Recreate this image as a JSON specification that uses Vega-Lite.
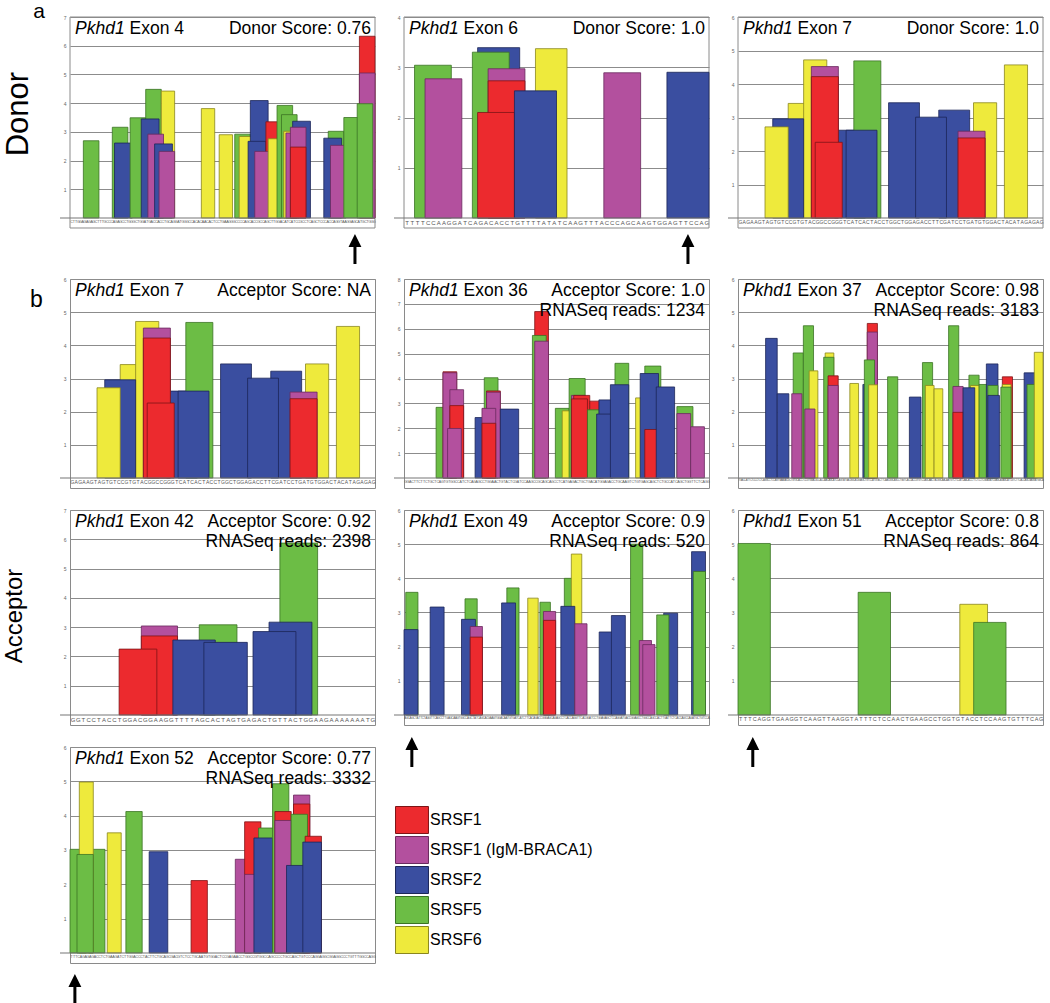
{
"$schema": "https://vega.github.io/schema/vega-lite/v6.json",
"padding": {"left": 2, "top": 0, "right": 0, "bottom": 0},
"background": "white",
"config": {"font": "Liberation Sans", "view": {"stroke": "#8a8a8a", "strokeWidth": 1}},
"datasets": {
"e4": [
{"s":6,"e":13,"h":2.69,"t":"SRSF5"},{"s":19,"e":26,"h":3.16,"t":"SRSF5"},{"s":20,"e":28,"h":2.61,"t":"SRSF2"},{"s":27,"e":34,"h":3.49,"t":"SRSF5"},{"s":34,"e":41,"h":4.48,"t":"SRSF5"},{"s":41,"e":47,"h":4.42,"t":"SRSF6"},{"s":32,"e":40,"h":3.45,"t":"SRSF2"},{"s":35,"e":42,"h":2.92,"t":"SRSF1 (IgM-BRACA1)"},{"s":38,"e":46,"h":2.58,"t":"SRSF2"},{"s":40,"e":47,"h":2.32,"t":"SRSF1 (IgM-BRACA1)"},
{"s":59,"e":65,"h":3.81,"t":"SRSF6"},{"s":67,"e":73,"h":2.9,"t":"SRSF6"},{"s":74,"e":81,"h":2.92,"t":"SRSF5"},{"s":76,"e":82,"h":2.84,"t":"SRSF6"},{"s":81,"e":89,"h":4.09,"t":"SRSF2"},{"s":80,"e":88,"h":2.67,"t":"SRSF2"},{"s":88,"e":95,"h":3.35,"t":"SRSF1"},{"s":83,"e":90,"h":2.32,"t":"SRSF1 (IgM-BRACA1)"},{"s":89,"e":95,"h":2.76,"t":"SRSF6"},
{"s":93,"e":100,"h":3.92,"t":"SRSF5"},{"s":95,"e":102,"h":3.6,"t":"SRSF5"},{"s":100,"e":108,"h":3.37,"t":"SRSF2"},{"s":96,"e":102,"h":3.02,"t":"SRSF6"},{"s":97,"e":103,"h":2.96,"t":"SRSF1 (IgM-BRACA1)"},{"s":99,"e":106,"h":3.16,"t":"SRSF1 (IgM-BRACA1)"},{"s":99,"e":106,"h":2.47,"t":"SRSF1"},
{"s":116,"e":123,"h":3.02,"t":"SRSF5"},{"s":114,"e":122,"h":2.78,"t":"SRSF2"},{"s":117,"e":124,"h":2.53,"t":"SRSF1 (IgM-BRACA1)"},{"s":123,"e":130,"h":3.5,"t":"SRSF5"},{"s":130,"e":137,"h":6.33,"t":"SRSF1"},{"s":130,"e":137,"h":5.05,"t":"SRSF1 (IgM-BRACA1)"},{"s":129,"e":136,"h":3.98,"t":"SRSF5"}
],
"e6": [
{"s":2,"e":9,"h":3.04,"t":"SRSF5"},{"s":4,"e":11,"h":2.77,"t":"SRSF1 (IgM-BRACA1)"},{"s":14,"e":22,"h":3.39,"t":"SRSF2"},{"s":13,"e":20,"h":3.3,"t":"SRSF5"},{"s":16,"e":23,"h":2.97,"t":"SRSF1 (IgM-BRACA1)"},{"s":16,"e":23,"h":2.73,"t":"SRSF1"},{"s":14,"e":21,"h":2.1,"t":"SRSF1"},{"s":25,"e":31,"h":3.37,"t":"SRSF6"},{"s":21,"e":29,"h":2.53,"t":"SRSF2"},{"s":38,"e":45,"h":2.89,"t":"SRSF1 (IgM-BRACA1)"},{"s":50,"e":58,"h":2.9,"t":"SRSF2"}
],
"e7": [
{"s":13,"e":19,"h":3.42,"t":"SRSF6"},{"s":17,"e":23,"h":4.72,"t":"SRSF6"},{"s":9,"e":17,"h":2.96,"t":"SRSF2"},{"s":7,"e":13,"h":2.72,"t":"SRSF6"},{"s":25,"e":33,"h":2.62,"t":"SRSF2"},{"s":19,"e":26,"h":4.52,"t":"SRSF1 (IgM-BRACA1)"},{"s":19,"e":26,"h":4.22,"t":"SRSF1"},{"s":20,"e":27,"h":2.26,"t":"SRSF1"},{"s":30,"e":37,"h":4.69,"t":"SRSF5"},{"s":28,"e":36,"h":2.62,"t":"SRSF2"},{"s":39,"e":47,"h":3.44,"t":"SRSF2"},{"s":52,"e":60,"h":3.22,"t":"SRSF2"},{"s":46,"e":54,"h":3.01,"t":"SRSF2"},{"s":61,"e":67,"h":3.44,"t":"SRSF6"},{"s":57,"e":64,"h":2.59,"t":"SRSF1 (IgM-BRACA1)"},{"s":57,"e":64,"h":2.39,"t":"SRSF1"},{"s":69,"e":75,"h":4.57,"t":"SRSF6"}
],
"e36": [
{"s":14,"e":21,"h":2.84,"t":"SRSF5"},{"s":17,"e":23,"h":4.27,"t":"SRSF1"},{"s":17,"e":23,"h":4.23,"t":"SRSF1 (IgM-BRACA1)"},{"s":20,"e":26,"h":3.55,"t":"SRSF1 (IgM-BRACA1)"},{"s":20,"e":26,"h":2.91,"t":"SRSF1"},{"s":19,"e":25,"h":1.99,"t":"SRSF1 (IgM-BRACA1)"},
{"s":31,"e":38,"h":2.43,"t":"SRSF2"},{"s":35,"e":41,"h":4.03,"t":"SRSF5"},{"s":36,"e":42,"h":3.5,"t":"SRSF1"},{"s":36,"e":42,"h":3.45,"t":"SRSF1 (IgM-BRACA1)"},{"s":34,"e":40,"h":2.8,"t":"SRSF1 (IgM-BRACA1)"},{"s":34,"e":40,"h":2.2,"t":"SRSF1"},{"s":42,"e":50,"h":2.77,"t":"SRSF2"},
{"s":57,"e":63,"h":6.69,"t":"SRSF1"},{"s":56,"e":62,"h":5.73,"t":"SRSF5"},{"s":57,"e":63,"h":5.5,"t":"SRSF1 (IgM-BRACA1)"},
{"s":66,"e":72,"h":2.8,"t":"SRSF5"},{"s":69,"e":75,"h":2.7,"t":"SRSF6"},{"s":72,"e":79,"h":4.0,"t":"SRSF5"},{"s":73,"e":79,"h":3.32,"t":"SRSF1 (IgM-BRACA1)"},{"s":74,"e":81,"h":3.32,"t":"SRSF1"},{"s":73,"e":80,"h":3.18,"t":"SRSF1"},{"s":81,"e":87,"h":3.09,"t":"SRSF1"},{"s":80,"e":86,"h":2.74,"t":"SRSF5"},{"s":85,"e":92,"h":3.14,"t":"SRSF2"},{"s":84,"e":91,"h":2.57,"t":"SRSF2"},{"s":92,"e":98,"h":4.61,"t":"SRSF5"},{"s":90,"e":98,"h":3.75,"t":"SRSF2"},
{"s":101,"e":107,"h":3.22,"t":"SRSF6"},{"s":105,"e":112,"h":4.5,"t":"SRSF5"},{"s":103,"e":111,"h":4.2,"t":"SRSF2"},{"s":105,"e":111,"h":1.95,"t":"SRSF1"},{"s":110,"e":118,"h":3.66,"t":"SRSF2"},{"s":119,"e":126,"h":2.87,"t":"SRSF5"},{"s":119,"e":125,"h":2.59,"t":"SRSF1 (IgM-BRACA1)"},{"s":125,"e":131,"h":2.06,"t":"SRSF1 (IgM-BRACA1)"}
],
"e37": [
{"s":19,"e":27,"h":4.21,"t":"SRSF2"},{"s":27,"e":35,"h":2.54,"t":"SRSF2"},{"s":38,"e":45,"h":3.77,"t":"SRSF5"},{"s":37,"e":44,"h":2.54,"t":"SRSF1 (IgM-BRACA1)"},{"s":45,"e":52,"h":4.59,"t":"SRSF5"},{"s":49,"e":55,"h":3.23,"t":"SRSF6"},{"s":46,"e":53,"h":2.08,"t":"SRSF1 (IgM-BRACA1)"},
{"s":60,"e":66,"h":3.77,"t":"SRSF6"},{"s":59,"e":66,"h":3.64,"t":"SRSF5"},{"s":62,"e":69,"h":3.08,"t":"SRSF1"},{"s":62,"e":69,"h":2.79,"t":"SRSF1 (IgM-BRACA1)"},{"s":77,"e":83,"h":2.85,"t":"SRSF6"},
{"s":86,"e":94,"h":2.82,"t":"SRSF2"},{"s":89,"e":96,"h":4.66,"t":"SRSF1"},{"s":89,"e":96,"h":4.4,"t":"SRSF1 (IgM-BRACA1)"},{"s":87,"e":94,"h":3.56,"t":"SRSF5"},{"s":90,"e":96,"h":2.81,"t":"SRSF6"},{"s":103,"e":110,"h":3.05,"t":"SRSF5"},
{"s":118,"e":126,"h":2.44,"t":"SRSF2"},{"s":127,"e":134,"h":3.48,"t":"SRSF5"},{"s":129,"e":135,"h":2.79,"t":"SRSF6"},{"s":135,"e":141,"h":2.69,"t":"SRSF6"},
{"s":145,"e":152,"h":4.59,"t":"SRSF5"},{"s":148,"e":155,"h":2.76,"t":"SRSF1 (IgM-BRACA1)"},{"s":148,"e":155,"h":1.98,"t":"SRSF1"},{"s":159,"e":166,"h":3.1,"t":"SRSF5"},{"s":160,"e":166,"h":2.79,"t":"SRSF6"},{"s":155,"e":163,"h":2.72,"t":"SRSF2"},{"s":166,"e":173,"h":2.82,"t":"SRSF5"},{"s":171,"e":179,"h":3.44,"t":"SRSF2"},{"s":172,"e":179,"h":2.79,"t":"SRSF5"},{"s":172,"e":180,"h":2.49,"t":"SRSF2"},
{"s":182,"e":189,"h":3.05,"t":"SRSF1"},{"s":182,"e":188,"h":2.82,"t":"SRSF6"},{"s":181,"e":188,"h":2.74,"t":"SRSF5"},{"s":197,"e":205,"h":3.17,"t":"SRSF2"},{"s":199,"e":206,"h":2.82,"t":"SRSF5"},{"s":204,"e":210,"h":3.79,"t":"SRSF6"}
],
"e42": [
{"s":13.8,"e":20.8,"h":3.04,"t":"SRSF1 (IgM-BRACA1)"},{"s":13.8,"e":20.8,"h":2.7,"t":"SRSF1"},{"s":9.5,"e":16.8,"h":2.25,"t":"SRSF1"},{"s":25,"e":32.3,"h":3.08,"t":"SRSF5"},{"s":19.9,"e":28.1,"h":2.56,"t":"SRSF2"},{"s":25.9,"e":34.3,"h":2.48,"t":"SRSF2"},{"s":40.6,"e":47.9,"h":5.87,"t":"SRSF5"},{"s":38.5,"e":46.8,"h":3.17,"t":"SRSF2"},{"s":35.4,"e":43.7,"h":2.85,"t":"SRSF2"}
],
"e49": [
{"s":1,"e":8,"h":3.59,"t":"SRSF5"},{"s":0,"e":8,"h":2.5,"t":"SRSF2"},{"s":15,"e":23,"h":3.16,"t":"SRSF2"},{"s":35,"e":42,"h":3.4,"t":"SRSF5"},{"s":33,"e":41,"h":2.8,"t":"SRSF2"},{"s":38,"e":45,"h":2.59,"t":"SRSF1 (IgM-BRACA1)"},{"s":38,"e":45,"h":2.28,"t":"SRSF1"},
{"s":59,"e":66,"h":3.72,"t":"SRSF5"},{"s":56,"e":64,"h":3.28,"t":"SRSF2"},{"s":71,"e":77,"h":3.42,"t":"SRSF6"},{"s":78,"e":84,"h":3.3,"t":"SRSF5"},{"s":80,"e":87,"h":3.03,"t":"SRSF1 (IgM-BRACA1)"},{"s":80,"e":87,"h":2.77,"t":"SRSF1"},
{"s":92,"e":99,"h":4.0,"t":"SRSF5"},{"s":96,"e":102,"h":4.71,"t":"SRSF6"},{"s":90,"e":98,"h":3.18,"t":"SRSF2"},{"s":98,"e":105,"h":2.67,"t":"SRSF1 (IgM-BRACA1)"},{"s":112,"e":120,"h":2.43,"t":"SRSF2"},{"s":119,"e":127,"h":2.91,"t":"SRSF2"},
{"s":130,"e":137,"h":5.0,"t":"SRSF5"},{"s":135,"e":142,"h":2.18,"t":"SRSF1 (IgM-BRACA1)"},{"s":137,"e":144,"h":2.06,"t":"SRSF1 (IgM-BRACA1)"},{"s":149,"e":157,"h":2.98,"t":"SRSF2"},{"s":145,"e":152,"h":2.93,"t":"SRSF5"},{"s":165,"e":173,"h":4.78,"t":"SRSF2"},{"s":166,"e":173,"h":4.2,"t":"SRSF5"}
],
"e51": [
{"s":0,"e":7,"h":5.02,"t":"SRSF5"},{"s":26,"e":33,"h":3.59,"t":"SRSF5"},{"s":48,"e":54,"h":3.24,"t":"SRSF6"},{"s":51,"e":58,"h":2.71,"t":"SRSF5"}
],
"e52": [
{"s":0,"e":7,"h":3.02,"t":"SRSF5"},{"s":8,"e":15,"h":3.02,"t":"SRSF5"},{"s":4,"e":10,"h":4.98,"t":"SRSF6"},{"s":3,"e":10,"h":2.87,"t":"SRSF5"},{"s":16,"e":22,"h":3.5,"t":"SRSF6"},{"s":24,"e":31,"h":4.12,"t":"SRSF5"},{"s":34,"e":42,"h":2.95,"t":"SRSF2"},{"s":52,"e":59,"h":2.11,"t":"SRSF1"},
{"s":71,"e":78,"h":2.73,"t":"SRSF1 (IgM-BRACA1)"},{"s":75,"e":82,"h":3.82,"t":"SRSF1"},{"s":75,"e":82,"h":2.29,"t":"SRSF1 (IgM-BRACA1)"},{"s":81,"e":88,"h":3.64,"t":"SRSF5"},{"s":79,"e":87,"h":3.35,"t":"SRSF2"},{"s":87,"e":94,"h":4.93,"t":"SRSF5"},{"s":88,"e":95,"h":4.12,"t":"SRSF1"},{"s":88,"e":95,"h":3.86,"t":"SRSF1 (IgM-BRACA1)"},
{"s":96,"e":103,"h":4.6,"t":"SRSF1 (IgM-BRACA1)"},{"s":96,"e":103,"h":4.34,"t":"SRSF1"},{"s":95,"e":102,"h":4.04,"t":"SRSF5"},{"s":93,"e":101,"h":2.55,"t":"SRSF2"},{"s":101,"e":108,"h":3.4,"t":"SRSF1"},{"s":100,"e":108,"h":3.23,"t":"SRSF2"}
]
},
"columns": 3,
"bounds": "flush",
"align": "each",
"spacing": {"row": 22, "column": 29},
"resolve": {"scale": {"x": "independent", "y": "independent", "color": "independent", "stroke": "independent"}, "axis": {"x": "independent", "y": "independent"}, "legend": {"color": "independent", "stroke": "independent"}},
"concat": [
{
"width": 305, "height": 240, "view": {"stroke": null},
"layer": [
{"data": {"values": [{}]}, "mark": {"type": "rect", "fill": "transparent", "stroke": "#8a8a8a", "strokeWidth": 1},
 "encoding": {"x": {"datum": 0, "type": "quantitative", "scale": {"domain": [0, 137], "nice": false, "zero": false}}, "x2": {"datum": 137}, "y": {"datum": 7, "type": "quantitative", "scale": {"domain": [-1.358, 7], "nice": false, "zero": false}}, "y2": {"datum": -0.348}}},
{"data": {"name": "e4"}, "mark": {"type": "rect", "strokeWidth": 0.8},
 "encoding": {
  "x": {"field": "s", "type": "quantitative", "scale": {"domain": [0, 137], "nice": false, "zero": false}, "axis": {"offset": -39, "tickCount": 137, "labelExpr": "substring('CTTGGAGAGAGCTTTGCCCAGAGCCTGGGCTGGATGACCACCTGCAGGATGGGCCACACAACACTCCTGAAGGGCCCCAGCACCGCCAGCTTGGACATCATCCGCCTCAGCTCCCACCAGGTAAGGAGCATGCTGGG', floor(datum.value), floor(datum.value) + 1)", "labelOffset": 1.11, "labelFontSize": 3.6, "labelColor": "#555555", "labelPadding": 1, "labelOverlap": false, "labelFlush": false, "labelBound": false, "labelAngle": 0, "labelAlign": "center", "labelBaseline": "top", "ticks": false, "domain": false, "grid": false, "title": null}},
  "x2": {"field": "e"},
  "y": {"field": "h", "type": "quantitative", "scale": {"domain": [-1.358, 7], "nice": false, "zero": false}, "axis": {"values": [1,2,3,4,5,6,7], "format": "d", "tickCount": 20, "labelOverlap": false, "grid": true, "gridColor": "#8c8c8c", "gridWidth": 1.2, "ticks": false, "domain": false, "labelFontSize": 5, "labelColor": "#666666", "labelPadding": 4, "title": null}},
  "y2": {"datum": 0},
  "color": {"field": "t", "type": "nominal", "scale": {"domain": ["SRSF1","SRSF1 (IgM-BRACA1)","SRSF2","SRSF5","SRSF6"], "range": ["#ec2a2e","#b3509e","#3a4ea0","#6cbd45","#eeea3c"]}, "legend": null},
  "stroke": {"field": "t", "type": "nominal", "scale": {"domain": ["SRSF1","SRSF1 (IgM-BRACA1)","SRSF2","SRSF5","SRSF6"], "range": ["#7d1416","#6a2a5e","#1c2658","#3b7424","#8a861e"]}, "legend": null}}},
{"data": {"values": [{}]}, "mark": {"type": "rule", "color": "#777777", "strokeWidth": 1.2}, "encoding": {"x": {"datum": -4.5, "type": "quantitative", "scale": {"domain": [0, 137], "nice": false, "zero": false}}, "x2": {"datum": 137}, "y": {"datum": 0, "type": "quantitative", "scale": {"domain": [-1.358, 7], "nice": false, "zero": false}}}},
{"data": {"values": [{}]}, "mark": {"type": "text", "text": "Pkhd1", "fontStyle": "italic", "fontSize": 17.5, "align": "left", "baseline": "alphabetic", "dx": 5, "dy": 17},
 "encoding": {"x": {"datum": 0, "type": "quantitative", "scale": {"domain": [0, 137], "nice": false, "zero": false}}, "y": {"datum": 7, "type": "quantitative", "scale": {"domain": [-1.358, 7], "nice": false, "zero": false}}}},
{"data": {"values": [{}]}, "mark": {"type": "text", "text": "Exon 4", "fontSize": 17.5, "align": "left", "baseline": "alphabetic", "dx": 59.5, "dy": 17},
 "encoding": {"x": {"datum": 0, "type": "quantitative", "scale": {"domain": [0, 137], "nice": false, "zero": false}}, "y": {"datum": 7, "type": "quantitative", "scale": {"domain": [-1.358, 7], "nice": false, "zero": false}}}},
{"data": {"values": [{}]}, "mark": {"type": "text", "text": "Donor Score: 0.76", "fontSize": 17.5, "align": "right", "baseline": "alphabetic", "dx": -4, "dy": 17},
 "encoding": {"x": {"datum": 137, "type": "quantitative", "scale": {"domain": [0, 137], "nice": false, "zero": false}}, "y": {"datum": 7, "type": "quantitative", "scale": {"domain": [-1.358, 7], "nice": false, "zero": false}}}},
{"data": {"values": [{"site": 128}]}, "mark": {"type": "point", "shape": "M0,-1L0.43,-0.13L0.1,-0.13L0.1,1L-0.1,1L-0.1,-0.13L-0.43,-0.13Z", "filled": true, "color": "#000000", "size": 900, "strokeWidth": 0, "opacity": 1},
 "encoding": {"x": {"field": "site", "type": "quantitative", "scale": {"domain": [0, 137], "nice": false, "zero": false}}, "y": {"datum": -1.08, "type": "quantitative", "scale": {"domain": [-1.358, 7], "nice": false, "zero": false}}}},
{"data": {"values": [{}]}, "mark": {"type": "text", "text": "Donor", "fontSize": 31, "angle": 270, "align": "center", "baseline": "middle"},
 "encoding": {"x": {"datum": -22.9, "type": "quantitative", "scale": {"domain": [0, 137], "nice": false, "zero": false}}, "y": {"datum": 3.62, "type": "quantitative", "scale": {"domain": [-1.358, 7], "nice": false, "zero": false}}}},
{"data": {"values": [{}]}, "mark": {"type": "text", "text": "a", "fontSize": 21, "align": "center", "baseline": "alphabetic"},
 "encoding": {"x": {"datum": -13.9, "type": "quantitative", "scale": {"domain": [0, 137], "nice": false, "zero": false}}, "y": {"datum": 6.97, "type": "quantitative", "scale": {"domain": [-1.358, 7], "nice": false, "zero": false}}}}
]
},
{
"width": 305, "height": 240, "view": {"stroke": null},
"layer": [
{"data": {"values": [{}]}, "mark": {"type": "rect", "fill": "transparent", "stroke": "#8a8a8a", "strokeWidth": 1},
 "encoding": {"x": {"datum": 0, "type": "quantitative", "scale": {"domain": [0, 58], "nice": false, "zero": false}}, "x2": {"datum": 58}, "y": {"datum": 4, "type": "quantitative", "scale": {"domain": [-0.776, 4], "nice": false, "zero": false}}, "y2": {"datum": -0.199}}},
{"data": {"name": "e6"}, "mark": {"type": "rect", "strokeWidth": 0.8},
 "encoding": {
  "x": {"field": "s", "type": "quantitative", "scale": {"domain": [0, 58], "nice": false, "zero": false}, "axis": {"offset": -39, "tickCount": 58, "labelExpr": "substring('TTTTCCAAGGATCAGACACCTGTTTTATATCAAGTTTACCCAGCAAGTGGAGTTCCAG', floor(datum.value), floor(datum.value) + 1)", "labelOffset": 2.63, "labelFontSize": 6, "labelColor": "#555555", "labelPadding": 1, "labelOverlap": false, "labelFlush": false, "labelBound": false, "labelAngle": 0, "labelAlign": "center", "labelBaseline": "top", "ticks": false, "domain": false, "grid": false, "title": null}},
  "x2": {"field": "e"},
  "y": {"field": "h", "type": "quantitative", "scale": {"domain": [-0.776, 4], "nice": false, "zero": false}, "axis": {"values": [1,2,3,4], "format": "d", "tickCount": 20, "labelOverlap": false, "grid": true, "gridColor": "#8c8c8c", "gridWidth": 1.2, "ticks": false, "domain": false, "labelFontSize": 5, "labelColor": "#666666", "labelPadding": 4, "title": null}},
  "y2": {"datum": 0},
  "color": {"field": "t", "type": "nominal", "scale": {"domain": ["SRSF1","SRSF1 (IgM-BRACA1)","SRSF2","SRSF5","SRSF6"], "range": ["#ec2a2e","#b3509e","#3a4ea0","#6cbd45","#eeea3c"]}, "legend": null},
  "stroke": {"field": "t", "type": "nominal", "scale": {"domain": ["SRSF1","SRSF1 (IgM-BRACA1)","SRSF2","SRSF5","SRSF6"], "range": ["#7d1416","#6a2a5e","#1c2658","#3b7424","#8a861e"]}, "legend": null}}},
{"data": {"values": [{}]}, "mark": {"type": "rule", "color": "#777777", "strokeWidth": 1.2}, "encoding": {"x": {"datum": -1.9, "type": "quantitative", "scale": {"domain": [0, 58], "nice": false, "zero": false}}, "x2": {"datum": 58}, "y": {"datum": 0, "type": "quantitative", "scale": {"domain": [-0.776, 4], "nice": false, "zero": false}}}},
{"data": {"values": [{}]}, "mark": {"type": "text", "text": "Pkhd1", "fontStyle": "italic", "fontSize": 17.5, "align": "left", "baseline": "alphabetic", "dx": 5, "dy": 17},
 "encoding": {"x": {"datum": 0, "type": "quantitative", "scale": {"domain": [0, 58], "nice": false, "zero": false}}, "y": {"datum": 4, "type": "quantitative", "scale": {"domain": [-0.776, 4], "nice": false, "zero": false}}}},
{"data": {"values": [{}]}, "mark": {"type": "text", "text": "Exon 6", "fontSize": 17.5, "align": "left", "baseline": "alphabetic", "dx": 59.5, "dy": 17},
 "encoding": {"x": {"datum": 0, "type": "quantitative", "scale": {"domain": [0, 58], "nice": false, "zero": false}}, "y": {"datum": 4, "type": "quantitative", "scale": {"domain": [-0.776, 4], "nice": false, "zero": false}}}},
{"data": {"values": [{}]}, "mark": {"type": "text", "text": "Donor Score: 1.0", "fontSize": 17.5, "align": "right", "baseline": "alphabetic", "dx": -4, "dy": 17},
 "encoding": {"x": {"datum": 58, "type": "quantitative", "scale": {"domain": [0, 58], "nice": false, "zero": false}}, "y": {"datum": 4, "type": "quantitative", "scale": {"domain": [-0.776, 4], "nice": false, "zero": false}}}},
{"data": {"values": [{"site": 54}]}, "mark": {"type": "point", "shape": "M0,-1L0.43,-0.13L0.1,-0.13L0.1,1L-0.1,1L-0.1,-0.13L-0.43,-0.13Z", "filled": true, "color": "#000000", "size": 900, "strokeWidth": 0, "opacity": 1},
 "encoding": {"x": {"field": "site", "type": "quantitative", "scale": {"domain": [0, 58], "nice": false, "zero": false}}, "y": {"datum": -0.617, "type": "quantitative", "scale": {"domain": [-0.776, 4], "nice": false, "zero": false}}}}
]
},
{
"width": 305, "height": 240, "view": {"stroke": null},
"layer": [
{"data": {"values": [{}]}, "mark": {"type": "rect", "fill": "transparent", "stroke": "#8a8a8a", "strokeWidth": 1},
 "encoding": {"x": {"datum": 0, "type": "quantitative", "scale": {"domain": [0, 79], "nice": false, "zero": false}}, "x2": {"datum": 79}, "y": {"datum": 6, "type": "quantitative", "scale": {"domain": [-1.164, 6], "nice": false, "zero": false}}, "y2": {"datum": -0.2985}}},
{"data": {"name": "e7"}, "mark": {"type": "rect", "strokeWidth": 0.8},
 "encoding": {
  "x": {"field": "s", "type": "quantitative", "scale": {"domain": [0, 79], "nice": false, "zero": false}, "axis": {"offset": -39, "tickCount": 79, "labelExpr": "substring('GAGAAGTAGTGTCCGTGTACGGCCGGGTCATCACTACCTGGCTGGAGACCTTCGATCCTGATGTGGACTACATAGAGAG', floor(datum.value), floor(datum.value) + 1)", "labelOffset": 1.93, "labelFontSize": 5, "labelColor": "#555555", "labelPadding": 1, "labelOverlap": false, "labelFlush": false, "labelBound": false, "labelAngle": 0, "labelAlign": "center", "labelBaseline": "top", "ticks": false, "domain": false, "grid": false, "title": null}},
  "x2": {"field": "e"},
  "y": {"field": "h", "type": "quantitative", "scale": {"domain": [-1.164, 6], "nice": false, "zero": false}, "axis": {"values": [1,2,3,4,5,6], "format": "d", "tickCount": 20, "labelOverlap": false, "grid": true, "gridColor": "#8c8c8c", "gridWidth": 1.2, "ticks": false, "domain": false, "labelFontSize": 5, "labelColor": "#666666", "labelPadding": 4, "title": null}},
  "y2": {"datum": 0},
  "color": {"field": "t", "type": "nominal", "scale": {"domain": ["SRSF1","SRSF1 (IgM-BRACA1)","SRSF2","SRSF5","SRSF6"], "range": ["#ec2a2e","#b3509e","#3a4ea0","#6cbd45","#eeea3c"]}, "legend": null},
  "stroke": {"field": "t", "type": "nominal", "scale": {"domain": ["SRSF1","SRSF1 (IgM-BRACA1)","SRSF2","SRSF5","SRSF6"], "range": ["#7d1416","#6a2a5e","#1c2658","#3b7424","#8a861e"]}, "legend": null}}},
{"data": {"values": [{}]}, "mark": {"type": "rule", "color": "#777777", "strokeWidth": 1.2}, "encoding": {"x": {"datum": -2.6, "type": "quantitative", "scale": {"domain": [0, 79], "nice": false, "zero": false}}, "x2": {"datum": 79}, "y": {"datum": 0, "type": "quantitative", "scale": {"domain": [-1.164, 6], "nice": false, "zero": false}}}},
{"data": {"values": [{}]}, "mark": {"type": "text", "text": "Pkhd1", "fontStyle": "italic", "fontSize": 17.5, "align": "left", "baseline": "alphabetic", "dx": 5, "dy": 17},
 "encoding": {"x": {"datum": 0, "type": "quantitative", "scale": {"domain": [0, 79], "nice": false, "zero": false}}, "y": {"datum": 6, "type": "quantitative", "scale": {"domain": [-1.164, 6], "nice": false, "zero": false}}}},
{"data": {"values": [{}]}, "mark": {"type": "text", "text": "Exon 7", "fontSize": 17.5, "align": "left", "baseline": "alphabetic", "dx": 59.5, "dy": 17},
 "encoding": {"x": {"datum": 0, "type": "quantitative", "scale": {"domain": [0, 79], "nice": false, "zero": false}}, "y": {"datum": 6, "type": "quantitative", "scale": {"domain": [-1.164, 6], "nice": false, "zero": false}}}},
{"data": {"values": [{}]}, "mark": {"type": "text", "text": "Donor Score: 1.0", "fontSize": 17.5, "align": "right", "baseline": "alphabetic", "dx": -4, "dy": 17},
 "encoding": {"x": {"datum": 79, "type": "quantitative", "scale": {"domain": [0, 79], "nice": false, "zero": false}}, "y": {"datum": 6, "type": "quantitative", "scale": {"domain": [-1.164, 6], "nice": false, "zero": false}}}}
]
},
{
"width": 305, "height": 209,
"layer": [
{"data": {"name": "e7"}, "mark": {"type": "rect", "strokeWidth": 0.8},
 "encoding": {
  "x": {"field": "s", "type": "quantitative", "scale": {"domain": [0, 79], "nice": false, "zero": false}, "axis": {"offset": -10, "tickCount": 79, "labelExpr": "substring('GAGAAGTAGTGTCCGTGTACGGCCGGGTCATCACTACCTGGCTGGAGACCTTCGATCCTGATGTGGACTACATAGAGAG', floor(datum.value), floor(datum.value) + 1)", "labelOffset": 1.93, "labelFontSize": 5, "labelColor": "#555555", "labelPadding": 1, "labelOverlap": false, "labelFlush": false, "labelBound": false, "labelAngle": 0, "labelAlign": "center", "labelBaseline": "top", "ticks": false, "domain": false, "grid": false, "title": null}},
  "x2": {"field": "e"},
  "y": {"field": "h", "type": "quantitative", "scale": {"domain": [-0.3015, 6], "nice": false, "zero": false}, "axis": {"values": [1,2,3,4,5,6], "format": "d", "tickCount": 20, "labelOverlap": false, "grid": true, "gridColor": "#8c8c8c", "gridWidth": 1.2, "ticks": false, "domain": false, "labelFontSize": 5, "labelColor": "#666666", "labelPadding": 4, "title": null}},
  "y2": {"datum": 0},
  "color": {"field": "t", "type": "nominal", "scale": {"domain": ["SRSF1","SRSF1 (IgM-BRACA1)","SRSF2","SRSF5","SRSF6"], "range": ["#ec2a2e","#b3509e","#3a4ea0","#6cbd45","#eeea3c"]}, "legend": null},
  "stroke": {"field": "t", "type": "nominal", "scale": {"domain": ["SRSF1","SRSF1 (IgM-BRACA1)","SRSF2","SRSF5","SRSF6"], "range": ["#7d1416","#6a2a5e","#1c2658","#3b7424","#8a861e"]}, "legend": null}}},
{"data": {"values": [{}]}, "mark": {"type": "rule", "color": "#777777", "strokeWidth": 1.2}, "encoding": {"x": {"datum": -2.6, "type": "quantitative", "scale": {"domain": [0, 79], "nice": false, "zero": false}}, "x2": {"datum": 79}, "y": {"datum": 0, "type": "quantitative", "scale": {"domain": [-0.3015, 6], "nice": false, "zero": false}}}},
{"data": {"values": [{}]}, "mark": {"type": "text", "text": "Pkhd1", "fontStyle": "italic", "fontSize": 17.5, "align": "left", "baseline": "alphabetic", "dx": 5, "dy": 17},
 "encoding": {"x": {"datum": 0, "type": "quantitative", "scale": {"domain": [0, 79], "nice": false, "zero": false}}, "y": {"datum": 6, "type": "quantitative", "scale": {"domain": [-0.3015, 6], "nice": false, "zero": false}}}},
{"data": {"values": [{}]}, "mark": {"type": "text", "text": "Exon 7", "fontSize": 17.5, "align": "left", "baseline": "alphabetic", "dx": 59.5, "dy": 17},
 "encoding": {"x": {"datum": 0, "type": "quantitative", "scale": {"domain": [0, 79], "nice": false, "zero": false}}, "y": {"datum": 6, "type": "quantitative", "scale": {"domain": [-0.3015, 6], "nice": false, "zero": false}}}},
{"data": {"values": [{}]}, "mark": {"type": "text", "text": "Acceptor Score: NA", "fontSize": 17.5, "align": "right", "baseline": "alphabetic", "dx": -4, "dy": 17},
 "encoding": {"x": {"datum": 79, "type": "quantitative", "scale": {"domain": [0, 79], "nice": false, "zero": false}}, "y": {"datum": 6, "type": "quantitative", "scale": {"domain": [-0.3015, 6], "nice": false, "zero": false}}}},
{"data": {"values": [{}]}, "mark": {"type": "text", "text": "b", "fontSize": 23, "align": "center", "baseline": "alphabetic"},
 "encoding": {"x": {"datum": -8.68, "type": "quantitative", "scale": {"domain": [0, 79], "nice": false, "zero": false}}, "y": {"datum": 5.155, "type": "quantitative", "scale": {"domain": [-0.3015, 6], "nice": false, "zero": false}}}}
]
},
{
"width": 305, "height": 209,
"layer": [
{"data": {"name": "e36"}, "mark": {"type": "rect", "strokeWidth": 0.8},
 "encoding": {
  "x": {"field": "s", "type": "quantitative", "scale": {"domain": [0, 133], "nice": false, "zero": false}, "axis": {"offset": -10, "tickCount": 133, "labelExpr": "substring('GGACTTCTTCTGCTCAGTGTGGCCATCTCAGAGCCTGGAACTGTACTCGATCCAAGCCGCAGCAGCCTCATGAGACTGCTGACATGGAGACCTGCAAGTCTGTGAGCAGCTCTGCCATCAGCTGGTTCTCAGG', floor(datum.value), floor(datum.value) + 1)", "labelOffset": 1.15, "labelFontSize": 3.6, "labelColor": "#555555", "labelPadding": 1, "labelOverlap": false, "labelFlush": false, "labelBound": false, "labelAngle": 0, "labelAlign": "center", "labelBaseline": "top", "ticks": false, "domain": false, "grid": false, "title": null}},
  "x2": {"field": "e"},
  "y": {"field": "h", "type": "quantitative", "scale": {"domain": [-0.402, 8], "nice": false, "zero": false}, "axis": {"values": [1,2,3,4,5,6,7,8], "format": "d", "tickCount": 20, "labelOverlap": false, "grid": true, "gridColor": "#8c8c8c", "gridWidth": 1.2, "ticks": false, "domain": false, "labelFontSize": 5, "labelColor": "#666666", "labelPadding": 4, "title": null}},
  "y2": {"datum": 0},
  "color": {"field": "t", "type": "nominal", "scale": {"domain": ["SRSF1","SRSF1 (IgM-BRACA1)","SRSF2","SRSF5","SRSF6"], "range": ["#ec2a2e","#b3509e","#3a4ea0","#6cbd45","#eeea3c"]}, "legend": null},
  "stroke": {"field": "t", "type": "nominal", "scale": {"domain": ["SRSF1","SRSF1 (IgM-BRACA1)","SRSF2","SRSF5","SRSF6"], "range": ["#7d1416","#6a2a5e","#1c2658","#3b7424","#8a861e"]}, "legend": null}}},
{"data": {"values": [{}]}, "mark": {"type": "rule", "color": "#777777", "strokeWidth": 1.2}, "encoding": {"x": {"datum": -4.36, "type": "quantitative", "scale": {"domain": [0, 133], "nice": false, "zero": false}}, "x2": {"datum": 133}, "y": {"datum": 0, "type": "quantitative", "scale": {"domain": [-0.402, 8], "nice": false, "zero": false}}}},
{"data": {"values": [{}]}, "mark": {"type": "text", "text": "Pkhd1", "fontStyle": "italic", "fontSize": 17.5, "align": "left", "baseline": "alphabetic", "dx": 5, "dy": 17},
 "encoding": {"x": {"datum": 0, "type": "quantitative", "scale": {"domain": [0, 133], "nice": false, "zero": false}}, "y": {"datum": 8, "type": "quantitative", "scale": {"domain": [-0.402, 8], "nice": false, "zero": false}}}},
{"data": {"values": [{}]}, "mark": {"type": "text", "text": "Exon 36", "fontSize": 17.5, "align": "left", "baseline": "alphabetic", "dx": 59.5, "dy": 17},
 "encoding": {"x": {"datum": 0, "type": "quantitative", "scale": {"domain": [0, 133], "nice": false, "zero": false}}, "y": {"datum": 8, "type": "quantitative", "scale": {"domain": [-0.402, 8], "nice": false, "zero": false}}}},
{"data": {"values": [{}]}, "mark": {"type": "text", "text": "Acceptor Score: 1.0\nRNASeq reads: 1234", "lineBreak": "\n", "lineHeight": 20, "fontSize": 17.5, "align": "right", "baseline": "alphabetic", "dx": -4, "dy": 17},
 "encoding": {"x": {"datum": 133, "type": "quantitative", "scale": {"domain": [0, 133], "nice": false, "zero": false}}, "y": {"datum": 8, "type": "quantitative", "scale": {"domain": [-0.402, 8], "nice": false, "zero": false}}}}
]
},
{
"width": 305, "height": 209,
"layer": [
{"data": {"name": "e37"}, "mark": {"type": "rect", "strokeWidth": 0.8},
 "encoding": {
  "x": {"field": "s", "type": "quantitative", "scale": {"domain": [0, 210], "nice": false, "zero": false}, "axis": {"offset": -10, "tickCount": 210, "labelExpr": "substring('TGACCATTCTCCCTCTCAGGCCTCCAGTGAAGACGCTGTGCACCTCCGTGGACGCCACCAACAGCATCCAGTATGACGGCACGGAGCTGTCCATGTACTTCAACGGCAGCCTGGTCACCACCGTGTCCAGCAACTACGGCAACAATGTCTCCATCAACACCTTCTCCTCGGAGATCGAGCAGAGCATCGTCTTCACCAGCGAGGATGGCA', floor(datum.value), floor(datum.value) + 1)", "labelOffset": 0.73, "labelFontSize": 2.6, "labelColor": "#555555", "labelPadding": 1, "labelOverlap": false, "labelFlush": false, "labelBound": false, "labelAngle": 0, "labelAlign": "center", "labelBaseline": "top", "ticks": false, "domain": false, "grid": false, "title": null}},
  "x2": {"field": "e"},
  "y": {"field": "h", "type": "quantitative", "scale": {"domain": [-0.3015, 6], "nice": false, "zero": false}, "axis": {"values": [1,2,3,4,5,6], "format": "d", "tickCount": 20, "labelOverlap": false, "grid": true, "gridColor": "#8c8c8c", "gridWidth": 1.2, "ticks": false, "domain": false, "labelFontSize": 5, "labelColor": "#666666", "labelPadding": 4, "title": null}},
  "y2": {"datum": 0},
  "color": {"field": "t", "type": "nominal", "scale": {"domain": ["SRSF1","SRSF1 (IgM-BRACA1)","SRSF2","SRSF5","SRSF6"], "range": ["#ec2a2e","#b3509e","#3a4ea0","#6cbd45","#eeea3c"]}, "legend": null},
  "stroke": {"field": "t", "type": "nominal", "scale": {"domain": ["SRSF1","SRSF1 (IgM-BRACA1)","SRSF2","SRSF5","SRSF6"], "range": ["#7d1416","#6a2a5e","#1c2658","#3b7424","#8a861e"]}, "legend": null}}},
{"data": {"values": [{}]}, "mark": {"type": "rule", "color": "#777777", "strokeWidth": 1.2}, "encoding": {"x": {"datum": -6.9, "type": "quantitative", "scale": {"domain": [0, 210], "nice": false, "zero": false}}, "x2": {"datum": 210}, "y": {"datum": 0, "type": "quantitative", "scale": {"domain": [-0.3015, 6], "nice": false, "zero": false}}}},
{"data": {"values": [{}]}, "mark": {"type": "text", "text": "Pkhd1", "fontStyle": "italic", "fontSize": 17.5, "align": "left", "baseline": "alphabetic", "dx": 5, "dy": 17},
 "encoding": {"x": {"datum": 0, "type": "quantitative", "scale": {"domain": [0, 210], "nice": false, "zero": false}}, "y": {"datum": 6, "type": "quantitative", "scale": {"domain": [-0.3015, 6], "nice": false, "zero": false}}}},
{"data": {"values": [{}]}, "mark": {"type": "text", "text": "Exon 37", "fontSize": 17.5, "align": "left", "baseline": "alphabetic", "dx": 59.5, "dy": 17},
 "encoding": {"x": {"datum": 0, "type": "quantitative", "scale": {"domain": [0, 210], "nice": false, "zero": false}}, "y": {"datum": 6, "type": "quantitative", "scale": {"domain": [-0.3015, 6], "nice": false, "zero": false}}}},
{"data": {"values": [{}]}, "mark": {"type": "text", "text": "Acceptor Score: 0.98\nRNASeq reads: 3183", "lineBreak": "\n", "lineHeight": 20, "fontSize": 17.5, "align": "right", "baseline": "alphabetic", "dx": -4, "dy": 17},
 "encoding": {"x": {"datum": 210, "type": "quantitative", "scale": {"domain": [0, 210], "nice": false, "zero": false}}, "y": {"datum": 6, "type": "quantitative", "scale": {"domain": [-0.3015, 6], "nice": false, "zero": false}}}}
]
},
{
"width": 305, "height": 215,
"layer": [
{"data": {"name": "e42"}, "mark": {"type": "rect", "strokeWidth": 0.8},
 "encoding": {
  "x": {"field": "s", "type": "quantitative", "scale": {"domain": [0, 59], "nice": false, "zero": false}, "axis": {"offset": -10, "tickCount": 59, "labelExpr": "substring('GGTCCTACCTGGACGGAAGGTTTTAGCACTAGTGAGACTGTTACTGGAAGAAAAAAATG', floor(datum.value), floor(datum.value) + 1)", "labelOffset": 2.58, "labelFontSize": 6, "labelColor": "#555555", "labelPadding": 1, "labelOverlap": false, "labelFlush": false, "labelBound": false, "labelAngle": 0, "labelAlign": "center", "labelBaseline": "top", "ticks": false, "domain": false, "grid": false, "title": null}},
  "x2": {"field": "e"},
  "y": {"field": "h", "type": "quantitative", "scale": {"domain": [-0.3415, 7], "nice": false, "zero": false}, "axis": {"values": [1,2,3,4,5,6,7], "format": "d", "tickCount": 20, "labelOverlap": false, "grid": true, "gridColor": "#8c8c8c", "gridWidth": 1.2, "ticks": false, "domain": false, "labelFontSize": 5, "labelColor": "#666666", "labelPadding": 4, "title": null}},
  "y2": {"datum": 0},
  "color": {"field": "t", "type": "nominal", "scale": {"domain": ["SRSF1","SRSF1 (IgM-BRACA1)","SRSF2","SRSF5","SRSF6"], "range": ["#ec2a2e","#b3509e","#3a4ea0","#6cbd45","#eeea3c"]}, "legend": null},
  "stroke": {"field": "t", "type": "nominal", "scale": {"domain": ["SRSF1","SRSF1 (IgM-BRACA1)","SRSF2","SRSF5","SRSF6"], "range": ["#7d1416","#6a2a5e","#1c2658","#3b7424","#8a861e"]}, "legend": null}}},
{"data": {"values": [{}]}, "mark": {"type": "rule", "color": "#777777", "strokeWidth": 1.2}, "encoding": {"x": {"datum": -1.93, "type": "quantitative", "scale": {"domain": [0, 59], "nice": false, "zero": false}}, "x2": {"datum": 59}, "y": {"datum": 0, "type": "quantitative", "scale": {"domain": [-0.3415, 7], "nice": false, "zero": false}}}},
{"data": {"values": [{}]}, "mark": {"type": "text", "text": "Pkhd1", "fontStyle": "italic", "fontSize": 17.5, "align": "left", "baseline": "alphabetic", "dx": 5, "dy": 17},
 "encoding": {"x": {"datum": 0, "type": "quantitative", "scale": {"domain": [0, 59], "nice": false, "zero": false}}, "y": {"datum": 7, "type": "quantitative", "scale": {"domain": [-0.3415, 7], "nice": false, "zero": false}}}},
{"data": {"values": [{}]}, "mark": {"type": "text", "text": "Exon 42", "fontSize": 17.5, "align": "left", "baseline": "alphabetic", "dx": 59.5, "dy": 17},
 "encoding": {"x": {"datum": 0, "type": "quantitative", "scale": {"domain": [0, 59], "nice": false, "zero": false}}, "y": {"datum": 7, "type": "quantitative", "scale": {"domain": [-0.3415, 7], "nice": false, "zero": false}}}},
{"data": {"values": [{}]}, "mark": {"type": "text", "text": "Acceptor Score: 0.92\nRNASeq reads: 2398", "lineBreak": "\n", "lineHeight": 20, "fontSize": 17.5, "align": "right", "baseline": "alphabetic", "dx": -4, "dy": 17},
 "encoding": {"x": {"datum": 59, "type": "quantitative", "scale": {"domain": [0, 59], "nice": false, "zero": false}}, "y": {"datum": 7, "type": "quantitative", "scale": {"domain": [-0.3415, 7], "nice": false, "zero": false}}}},
{"data": {"values": [{}]}, "mark": {"type": "text", "text": "Acceptor", "fontSize": 24, "angle": 270, "align": "center", "baseline": "middle"},
 "encoding": {"x": {"datum": -10.6, "type": "quantitative", "scale": {"domain": [0, 59], "nice": false, "zero": false}}, "y": {"datum": 3.38, "type": "quantitative", "scale": {"domain": [-0.3415, 7], "nice": false, "zero": false}}}}
]
},
{
"width": 305, "height": 215,
"layer": [
{"data": {"name": "e49"}, "mark": {"type": "rect", "strokeWidth": 0.8},
 "encoding": {
  "x": {"field": "s", "type": "quantitative", "scale": {"domain": [0, 175], "nice": false, "zero": false}, "axis": {"offset": -10, "tickCount": 175, "labelExpr": "substring('AGCAGCTATTCTAGGTTCAGCCTTGAGCAAGTGGCCAGCTATCAGCACGAAGTGGACAATGTGATCATCTTCACAGACCGGGAGCAGAGCCTCACCAGGTTCACGGATCCTGGAGAGCTCCAGGATGACCGGAGCCTGGCCAGCCACTTGATTCTCACCAGCCAGATGCTGTCCA', floor(datum.value), floor(datum.value) + 1)", "labelOffset": 0.87, "labelFontSize": 3, "labelColor": "#555555", "labelPadding": 1, "labelOverlap": false, "labelFlush": false, "labelBound": false, "labelAngle": 0, "labelAlign": "center", "labelBaseline": "top", "ticks": false, "domain": false, "grid": false, "title": null}},
  "x2": {"field": "e"},
  "y": {"field": "h", "type": "quantitative", "scale": {"domain": [-0.2927, 6], "nice": false, "zero": false}, "axis": {"values": [1,2,3,4,5,6], "format": "d", "tickCount": 20, "labelOverlap": false, "grid": true, "gridColor": "#8c8c8c", "gridWidth": 1.2, "ticks": false, "domain": false, "labelFontSize": 5, "labelColor": "#666666", "labelPadding": 4, "title": null}},
  "y2": {"datum": 0},
  "color": {"field": "t", "type": "nominal", "scale": {"domain": ["SRSF1","SRSF1 (IgM-BRACA1)","SRSF2","SRSF5","SRSF6"], "range": ["#ec2a2e","#b3509e","#3a4ea0","#6cbd45","#eeea3c"]}, "legend": null},
  "stroke": {"field": "t", "type": "nominal", "scale": {"domain": ["SRSF1","SRSF1 (IgM-BRACA1)","SRSF2","SRSF5","SRSF6"], "range": ["#7d1416","#6a2a5e","#1c2658","#3b7424","#8a861e"]}, "legend": null}}},
{"data": {"values": [{}]}, "mark": {"type": "rule", "color": "#777777", "strokeWidth": 1.2}, "encoding": {"x": {"datum": -5.74, "type": "quantitative", "scale": {"domain": [0, 175], "nice": false, "zero": false}}, "x2": {"datum": 175}, "y": {"datum": 0, "type": "quantitative", "scale": {"domain": [-0.2927, 6], "nice": false, "zero": false}}}},
{"data": {"values": [{}]}, "mark": {"type": "text", "text": "Pkhd1", "fontStyle": "italic", "fontSize": 17.5, "align": "left", "baseline": "alphabetic", "dx": 5, "dy": 17},
 "encoding": {"x": {"datum": 0, "type": "quantitative", "scale": {"domain": [0, 175], "nice": false, "zero": false}}, "y": {"datum": 6, "type": "quantitative", "scale": {"domain": [-0.2927, 6], "nice": false, "zero": false}}}},
{"data": {"values": [{}]}, "mark": {"type": "text", "text": "Exon 49", "fontSize": 17.5, "align": "left", "baseline": "alphabetic", "dx": 59.5, "dy": 17},
 "encoding": {"x": {"datum": 0, "type": "quantitative", "scale": {"domain": [0, 175], "nice": false, "zero": false}}, "y": {"datum": 6, "type": "quantitative", "scale": {"domain": [-0.2927, 6], "nice": false, "zero": false}}}},
{"data": {"values": [{}]}, "mark": {"type": "text", "text": "Acceptor Score: 0.9\nRNASeq reads: 520", "lineBreak": "\n", "lineHeight": 20, "fontSize": 17.5, "align": "right", "baseline": "alphabetic", "dx": -4, "dy": 17},
 "encoding": {"x": {"datum": 175, "type": "quantitative", "scale": {"domain": [0, 175], "nice": false, "zero": false}}, "y": {"datum": 6, "type": "quantitative", "scale": {"domain": [-0.2927, 6], "nice": false, "zero": false}}}},
{"data": {"values": [{"site": 4.5}]}, "mark": {"type": "point", "shape": "M0,-1L0.43,-0.13L0.1,-0.13L0.1,1L-0.1,1L-0.1,-0.13L-0.43,-0.13Z", "filled": true, "color": "#000000", "size": 900, "strokeWidth": 0, "opacity": 1},
 "encoding": {"x": {"field": "site", "type": "quantitative", "scale": {"domain": [0, 175], "nice": false, "zero": false}}, "y": {"datum": -1.08, "type": "quantitative", "scale": {"domain": [-0.2927, 6], "nice": false, "zero": false}}}}
]
},
{
"width": 305, "height": 215,
"layer": [
{"data": {"name": "e51"}, "mark": {"type": "rect", "strokeWidth": 0.8},
 "encoding": {
  "x": {"field": "s", "type": "quantitative", "scale": {"domain": [0, 66], "nice": false, "zero": false}, "axis": {"offset": -10, "tickCount": 66, "labelExpr": "substring('TTTCAGGTGAAGGTCAAGTTAAGGTATTTCTCCAACTGAAGCCTGGTGTACCTCCAAGTGTTTCAG', floor(datum.value), floor(datum.value) + 1)", "labelOffset": 2.31, "labelFontSize": 5.5, "labelColor": "#555555", "labelPadding": 1, "labelOverlap": false, "labelFlush": false, "labelBound": false, "labelAngle": 0, "labelAlign": "center", "labelBaseline": "top", "ticks": false, "domain": false, "grid": false, "title": null}},
  "x2": {"field": "e"},
  "y": {"field": "h", "type": "quantitative", "scale": {"domain": [-0.2927, 6], "nice": false, "zero": false}, "axis": {"values": [1,2,3,4,5,6], "format": "d", "tickCount": 20, "labelOverlap": false, "grid": true, "gridColor": "#8c8c8c", "gridWidth": 1.2, "ticks": false, "domain": false, "labelFontSize": 5, "labelColor": "#666666", "labelPadding": 4, "title": null}},
  "y2": {"datum": 0},
  "color": {"field": "t", "type": "nominal", "scale": {"domain": ["SRSF1","SRSF1 (IgM-BRACA1)","SRSF2","SRSF5","SRSF6"], "range": ["#ec2a2e","#b3509e","#3a4ea0","#6cbd45","#eeea3c"]}, "legend": null},
  "stroke": {"field": "t", "type": "nominal", "scale": {"domain": ["SRSF1","SRSF1 (IgM-BRACA1)","SRSF2","SRSF5","SRSF6"], "range": ["#7d1416","#6a2a5e","#1c2658","#3b7424","#8a861e"]}, "legend": null}}},
{"data": {"values": [{}]}, "mark": {"type": "rule", "color": "#777777", "strokeWidth": 1.2}, "encoding": {"x": {"datum": -2.16, "type": "quantitative", "scale": {"domain": [0, 66], "nice": false, "zero": false}}, "x2": {"datum": 66}, "y": {"datum": 0, "type": "quantitative", "scale": {"domain": [-0.2927, 6], "nice": false, "zero": false}}}},
{"data": {"values": [{}]}, "mark": {"type": "text", "text": "Pkhd1", "fontStyle": "italic", "fontSize": 17.5, "align": "left", "baseline": "alphabetic", "dx": 5, "dy": 17},
 "encoding": {"x": {"datum": 0, "type": "quantitative", "scale": {"domain": [0, 66], "nice": false, "zero": false}}, "y": {"datum": 6, "type": "quantitative", "scale": {"domain": [-0.2927, 6], "nice": false, "zero": false}}}},
{"data": {"values": [{}]}, "mark": {"type": "text", "text": "Exon 51", "fontSize": 17.5, "align": "left", "baseline": "alphabetic", "dx": 59.5, "dy": 17},
 "encoding": {"x": {"datum": 0, "type": "quantitative", "scale": {"domain": [0, 66], "nice": false, "zero": false}}, "y": {"datum": 6, "type": "quantitative", "scale": {"domain": [-0.2927, 6], "nice": false, "zero": false}}}},
{"data": {"values": [{}]}, "mark": {"type": "text", "text": "Acceptor Score: 0.8\nRNASeq reads: 864", "lineBreak": "\n", "lineHeight": 20, "fontSize": 17.5, "align": "right", "baseline": "alphabetic", "dx": -4, "dy": 17},
 "encoding": {"x": {"datum": 66, "type": "quantitative", "scale": {"domain": [0, 66], "nice": false, "zero": false}}, "y": {"datum": 6, "type": "quantitative", "scale": {"domain": [-0.2927, 6], "nice": false, "zero": false}}}},
{"data": {"values": [{"site": 3.2}]}, "mark": {"type": "point", "shape": "M0,-1L0.43,-0.13L0.1,-0.13L0.1,1L-0.1,1L-0.1,-0.13L-0.43,-0.13Z", "filled": true, "color": "#000000", "size": 900, "strokeWidth": 0, "opacity": 1},
 "encoding": {"x": {"field": "site", "type": "quantitative", "scale": {"domain": [0, 66], "nice": false, "zero": false}}, "y": {"datum": -1.08, "type": "quantitative", "scale": {"domain": [-0.2927, 6], "nice": false, "zero": false}}}}
]
},
{
"width": 305, "height": 216,
"layer": [
{"data": {"name": "e52"}, "mark": {"type": "rect", "strokeWidth": 0.8},
 "encoding": {
  "x": {"field": "s", "type": "quantitative", "scale": {"domain": [0, 131], "nice": false, "zero": false}, "axis": {"offset": -10, "tickCount": 131, "labelExpr": "substring('TTTCAGAGAGACCTCTGAAGATCTTGGACCCTACTTCTGCAGCGACGTCTCCTGCAATGTGGACTCCGAGAACCTGGCCGTGGCCAGCCCCTGCCAGCTGTCCCAGGAGGCGGAGGCCCTGTTTGGCCAGG', floor(datum.value), floor(datum.value) + 1)", "labelOffset": 1.16, "labelFontSize": 3.6, "labelColor": "#555555", "labelPadding": 1, "labelOverlap": false, "labelFlush": false, "labelBound": false, "labelAngle": 0, "labelAlign": "center", "labelBaseline": "top", "ticks": false, "domain": false, "grid": false, "title": null}},
  "x2": {"field": "e"},
  "y": {"field": "h", "type": "quantitative", "scale": {"domain": [-0.2913, 6], "nice": false, "zero": false}, "axis": {"values": [1,2,3,4,5,6], "format": "d", "tickCount": 20, "labelOverlap": false, "grid": true, "gridColor": "#8c8c8c", "gridWidth": 1.2, "ticks": false, "domain": false, "labelFontSize": 5, "labelColor": "#666666", "labelPadding": 4, "title": null}},
  "y2": {"datum": 0},
  "color": {"field": "t", "type": "nominal", "scale": {"domain": ["SRSF1","SRSF1 (IgM-BRACA1)","SRSF2","SRSF5","SRSF6"], "range": ["#ec2a2e","#b3509e","#3a4ea0","#6cbd45","#eeea3c"]}, "legend": {"orient": "none", "legendX": 328, "legendY": 59, "title": null, "symbolType": "M-1.22,-1L1.22,-1L1.22,1L-1.22,1Z", "symbolSize": 729, "symbolStrokeColor": "#dddddd", "symbolStrokeWidth": 1, "symbolOpacity": 1, "labelFontSize": 16, "labelFont": "Liberation Sans", "labelColor": "#000000", "labelLimit": 300, "labelOffset": 4, "rowPadding": -2}},
  "stroke": {"field": "t", "type": "nominal", "scale": {"domain": ["SRSF1","SRSF1 (IgM-BRACA1)","SRSF2","SRSF5","SRSF6"], "range": ["#7d1416","#6a2a5e","#1c2658","#3b7424","#8a861e"]}, "legend": null}}},
{"data": {"values": [{}]}, "mark": {"type": "rule", "color": "#777777", "strokeWidth": 1.2}, "encoding": {"x": {"datum": -4.3, "type": "quantitative", "scale": {"domain": [0, 131], "nice": false, "zero": false}}, "x2": {"datum": 131}, "y": {"datum": 0, "type": "quantitative", "scale": {"domain": [-0.2913, 6], "nice": false, "zero": false}}}},
{"data": {"values": [{}]}, "mark": {"type": "text", "text": "Pkhd1", "fontStyle": "italic", "fontSize": 17.5, "align": "left", "baseline": "alphabetic", "dx": 5, "dy": 17},
 "encoding": {"x": {"datum": 0, "type": "quantitative", "scale": {"domain": [0, 131], "nice": false, "zero": false}}, "y": {"datum": 6, "type": "quantitative", "scale": {"domain": [-0.2913, 6], "nice": false, "zero": false}}}},
{"data": {"values": [{}]}, "mark": {"type": "text", "text": "Exon 52", "fontSize": 17.5, "align": "left", "baseline": "alphabetic", "dx": 59.5, "dy": 17},
 "encoding": {"x": {"datum": 0, "type": "quantitative", "scale": {"domain": [0, 131], "nice": false, "zero": false}}, "y": {"datum": 6, "type": "quantitative", "scale": {"domain": [-0.2913, 6], "nice": false, "zero": false}}}},
{"data": {"values": [{}]}, "mark": {"type": "text", "text": "Acceptor Score: 0.77\nRNASeq reads: 3332", "lineBreak": "\n", "lineHeight": 20, "fontSize": 17.5, "align": "right", "baseline": "alphabetic", "dx": -4, "dy": 17},
 "encoding": {"x": {"datum": 131, "type": "quantitative", "scale": {"domain": [0, 131], "nice": false, "zero": false}}, "y": {"datum": 6, "type": "quantitative", "scale": {"domain": [-0.2913, 6], "nice": false, "zero": false}}}},
{"data": {"values": [{"site": 2.1}]}, "mark": {"type": "point", "shape": "M0,-1L0.43,-0.13L0.1,-0.13L0.1,1L-0.1,1L-0.1,-0.13L-0.43,-0.13Z", "filled": true, "color": "#000000", "size": 900, "strokeWidth": 0, "opacity": 1},
 "encoding": {"x": {"field": "site", "type": "quantitative", "scale": {"domain": [0, 131], "nice": false, "zero": false}}, "y": {"datum": -1.05, "type": "quantitative", "scale": {"domain": [-0.2913, 6], "nice": false, "zero": false}}}}
]
}
]
}
